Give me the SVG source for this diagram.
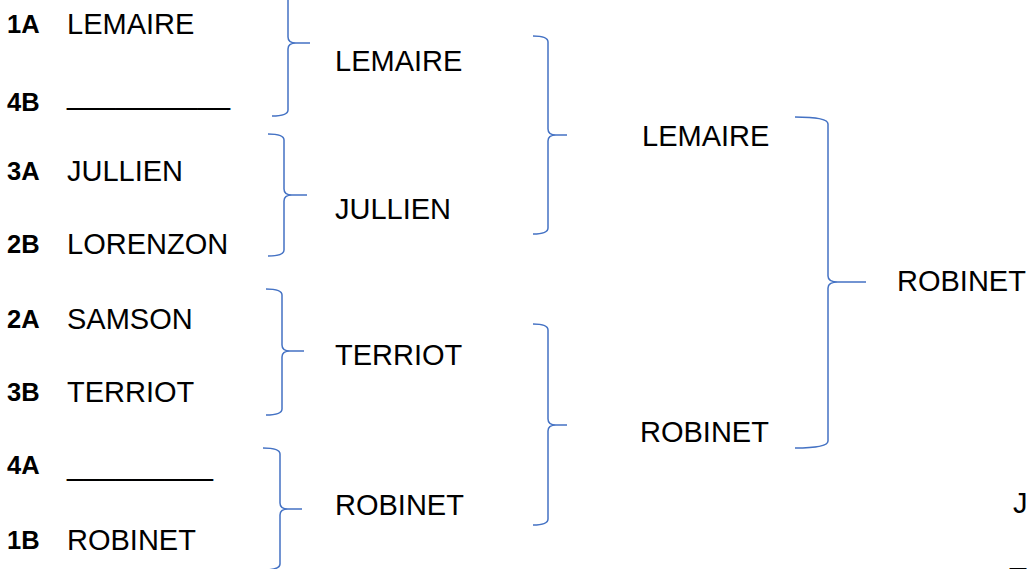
<svg xmlns="http://www.w3.org/2000/svg" width="1027" height="569" viewBox="0 0 1027 569">
<style>
.t{font-family:"Liberation Sans",Arial,sans-serif;font-size:29px;fill:#000}
.b{font-family:"Liberation Sans",Arial,sans-serif;font-size:25.5px;font-weight:bold;fill:#000}
.br{fill:none;stroke:#4472C4;stroke-width:1.5}
</style>
<rect width="1027" height="569" fill="#fff"/>
<g id="seeds">
<text class="b" x="7" y="33">1A</text>
<text class="b" x="7" y="111">4B</text>
<text class="b" x="7" y="180">3A</text>
<text class="b" x="7" y="253">2B</text>
<text class="b" x="7" y="328">2A</text>
<text class="b" x="7" y="401">3B</text>
<text class="b" x="7" y="474">4A</text>
<text class="b" x="7" y="549">1B</text>
</g>
<g id="round1">
<text class="t" x="67" y="34">LEMAIRE</text>
<text class="t" x="67" y="104" textLength="163" lengthAdjust="spacingAndGlyphs">__________</text>
<text class="t" x="67" y="181">JULLIEN</text>
<text class="t" x="67" y="254">LORENZON</text>
<text class="t" x="67" y="329">SAMSON</text>
<text class="t" x="67" y="402">TERRIOT</text>
<text class="t" x="67" y="475" textLength="146" lengthAdjust="spacingAndGlyphs">_________</text>
<text class="t" x="67" y="550">ROBINET</text>
</g>
<g id="round2">
<text class="t" x="335" y="71">LEMAIRE</text>
<text class="t" x="335" y="219">JULLIEN</text>
<text class="t" x="335" y="365">TERRIOT</text>
<text class="t" x="335" y="515">ROBINET</text>
</g>
<g id="round3">
<text class="t" x="642" y="146">LEMAIRE</text>
<text class="t" x="640" y="442">ROBINET</text>
</g>
<g id="final">
<text class="t" x="897" y="291">ROBINET</text>
</g>
<g id="extra">
<text class="t" x="1013" y="513">J</text>
<text class="t" x="1010" y="564">_</text>
</g>
<g id="connectors">
<path class="br" d="M272 -30 Q288 -30 288 -24 V37 Q288 43 296 43 H310 M296 43 Q288 43 288 49 V110 Q288 116 272 116"/>
<path class="br" d="M268 134 Q284 134 284 140 V189 Q284 195 292 195 H307 M292 195 Q284 195 284 201 V250 Q284 256 268 256"/>
<path class="br" d="M266 289 Q282 289 282 295 V345 Q282 351 290 351 H304 M290 351 Q282 351 282 357 V409 Q282 415 266 415"/>
<path class="br" d="M263 448 Q280 448 280 454 V503 Q280 509 288 509 H302 M288 509 Q280 509 280 515 V564 Q280 570 263 570"/>
<path class="br" d="M533 36 Q548 36 548 42 V129 Q548 135 556 135 H567 M556 135 Q548 135 548 141 V228 Q548 234 533 234"/>
<path class="br" d="M533 324 Q548 324 548 330 V419 Q548 425 556 425 H567 M556 425 Q548 425 548 431 V519 Q548 525 533 525"/>
<path class="br" d="M795 117 Q828 117 828 124 V276 Q828 282 838 282 H866 M838 282 Q828 282 828 288 V441 Q828 448 795 448"/>
</g>
</svg>
